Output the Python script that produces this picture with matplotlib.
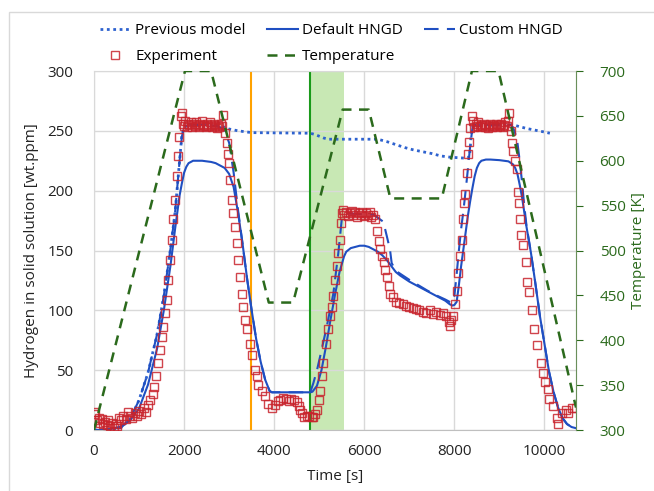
import matplotlib
matplotlib.use("Agg")
import matplotlib.pyplot as plt
from matplotlib.patches import Rectangle

plt.rcParams['font.family'] = ['Open Sans', 'DejaVu Sans']

# experiment (hydrogen in solid solution, wt.ppm)
exp_time = [0, 30, 60, 100, 130, 170, 200, 240, 280, 320, 360, 400, 440, 480, 520, 560, 600, 650, 700, 750,
            800, 850, 900, 950, 1000, 1050, 1100, 1150, 1200, 1250, 1300, 1340, 1380, 1420, 1460, 1500,
            1540, 1580, 1615, 1650, 1690, 1725, 1760, 1800, 1835, 1870, 1895, 1925, 1945,
            1970, 2000, 2030, 2060, 2090, 2120, 2150, 2180, 2210, 2240, 2270, 2300, 2330, 2360, 2390, 2420,
            2450, 2480, 2510, 2540, 2570, 2600, 2630, 2660, 2690, 2720, 2750, 2780, 2810, 2840, 2870, 2900,
            2945, 2980, 3005, 3020, 3055, 3090, 3130, 3165, 3205, 3240, 3280, 3310, 3350, 3390, 3460, 3500,
            3570, 3610, 3650, 3720, 3800, 3870, 3945,
            4020, 4090, 4130, 4200, 4260, 4330, 4380, 4440, 4500, 4540, 4580, 4620, 4660, 4720, 4780, 4840,
            4870, 4900, 4960, 5000, 5017, 5060, 5090, 5150, 5190, 5240, 5275, 5310, 5350, 5390, 5420, 5450,
            5475, 5500, 5530, 5560, 5600, 5640, 5680, 5720, 5760, 5800, 5840, 5880, 5920, 5960, 6000, 6040,
            6080, 6120, 6160, 6200, 6240, 6275, 6320, 6360, 6400, 6430, 6460, 6500, 6540, 6580, 6630, 6700,
            6780, 6850, 6920, 7000, 7080, 7150, 7220, 7300, 7380, 7450, 7520, 7600, 7680, 7750, 7820, 7870,
            7900, 7930, 7960, 8013, 8050, 8087, 8124, 8162, 8198, 8210, 8235, 8273, 8309, 8320, 8346, 8384,
            8410, 8440, 8470, 8500, 8530, 8560, 8590, 8620, 8650, 8680, 8710, 8740, 8770, 8800, 8830, 8860,
            8890, 8920, 8950, 8980, 9010, 9040, 9070, 9100, 9130, 9160, 9190, 9220, 9250,
            9272, 9300, 9340, 9383, 9410, 9430, 9455, 9478, 9530, 9589, 9620, 9665, 9716, 9775, 9840, 9915,
            9960, 10010, 10084, 10110, 10196, 10284, 10290, 10382, 10477, 10530, 10604, 10699]
exp_h = [15, 13, 8, 10, 6, 9, 5, 7, 4, 8, 3, 6, 2, 5, 3, 10, 8, 12, 9, 15,
         12, 10, 14, 12, 16, 13, 18, 15, 21, 25, 30, 36, 45, 56, 67, 78,
         86, 98, 109, 125, 142, 159, 176, 192, 212, 229, 245, 262, 265,
         256, 254, 258, 253, 256, 255, 257, 253, 256, 254, 257, 255, 253, 256, 258, 254,
         255, 253, 256, 254, 257, 255, 253, 256, 254, 252, 255, 253, 256, 254, 263, 248,
         240, 231, 223, 209, 192, 181, 170, 156, 142, 128, 114, 103, 92, 84, 72, 63,
         50, 45, 38, 33, 28, 22, 18,
         21, 24, 25, 27, 26, 24, 26, 25, 23, 20, 17, 14, 11, 12, 12, 11,
         11, 13, 17, 25, 33, 45, 56, 72, 84, 95, 103, 112, 125, 137, 148, 159,
         173, 181, 184, 180, 182, 179, 181, 183, 180, 182, 178, 181, 180, 182, 179, 181,
         180, 182, 178, 180, 176, 166, 158, 151, 145, 140, 134, 128, 120, 114, 111, 107,
         106, 105, 104, 103, 102, 101, 100, 99, 98, 100, 97, 99, 96, 98, 95, 90,
         87, 92, 95, 105, 116, 131, 145, 159, 176, 190, 197, 215, 231, 241, 252, 262,
         258, 253, 256, 254, 257, 253, 255, 254, 256, 253, 255, 252, 254, 256, 253, 255,
         254, 256, 253, 255, 254, 256, 253, 255, 257, 254, 258, 265, 250,
         240, 233, 225, 218, 199, 190, 176, 163, 155, 140, 124, 115, 100, 84, 71, 56,
         48, 40, 34, 26, 20, 10, 5, 14, 17, 14, 18, 18]

# previous model (dotted)
prev_time = [0, 200, 400, 600, 800, 1000, 1200, 1400, 1550, 1700, 1800, 1900, 1950, 2000, 2100, 2500,
             2800, 2900, 3000, 3200, 3400, 3500, 4800, 4900, 5000, 5100, 5200, 5400, 6300, 6500, 6700,
             6900, 7100, 7300, 7500, 7700, 7900, 8300, 8340, 8370, 8400, 8450, 9250, 9350, 9450, 9600,
             9800, 10000, 10120]
prev_h = [0, 0, 0.5, 2, 9, 25, 48, 80, 112, 152, 182, 225, 246, 253, 255, 255,
          254, 253, 251.5, 250, 249, 248.5, 248, 247, 245.5, 244, 243, 243, 243, 241, 238.5,
          236, 234, 232.5, 231, 229, 228, 227, 230, 245, 253, 254.5, 255, 254.5, 253.5, 252,
          250.5, 249, 248]

# default HNGD (solid)
def_time = [0, 200, 400, 600, 800, 1000, 1200, 1400, 1550, 1700, 1800, 1900, 1950, 2000, 2050, 2100,
            2200, 2400, 2600, 2700, 2800, 2900, 3000, 3100, 3200, 3300, 3400, 3500, 3600, 3700, 3800,
            3900, 3950, 4800, 4850, 4950, 5050, 5150, 5250, 5350, 5450, 5550, 5600, 5700, 5800, 5900,
            6000, 6100, 6200, 6300, 6400, 6500, 6600, 6700, 6800, 7000, 7200, 7400, 7600, 7800, 7900,
            7960, 8000, 8050, 8100, 8150, 8200, 8250, 8300, 8350, 8400, 8450, 8500, 8550, 8600, 8700,
            8800, 9000, 9200, 9300, 9350, 9400, 9450, 9500, 9600, 9700, 9800, 9900, 10000, 10100, 10200,
            10300, 10400, 10500, 10600, 10700]
def_h = [0, 0, 1, 3, 8, 18, 38, 68, 100, 138, 168, 196, 206, 215, 220, 223,
         225, 225, 224, 223, 221, 219, 214, 203, 181, 155, 126, 100, 76, 57, 42,
         32.5, 31.5, 31.5, 32, 37, 50, 70, 92, 113, 132, 145, 149, 152, 153, 154,
         154, 153, 151, 149, 146, 142, 137, 132, 129, 124, 120, 116, 112, 108, 105,
         104, 104.5, 107, 121, 137, 151, 165, 179, 191, 202, 212, 219, 223, 225, 226,
         226, 225.5, 224.5, 222, 219, 214, 205, 195, 170, 148, 122, 95, 72, 49, 32,
         19, 10, 5, 2.5, 1.5]

# custom HNGD (dashed)
cus_time = [0, 200, 400, 600, 800, 1000, 1200, 1400, 1550, 1700, 1800, 1900, 1950, 2000, 2100, 2400,
            2700, 2800, 2900, 3000, 3100, 3200, 3300, 3400, 3500, 3600, 3700, 3800, 3900, 3950, 4800,
            4868, 4950, 5017, 5100, 5165, 5250, 5313, 5424, 5500, 5600, 6200, 6280, 6350, 6423, 6500,
            6571, 6608, 6700, 6800, 7000, 7200, 7400, 7600, 7800, 7900, 7950, 8000, 8050, 8100, 8150,
            8200, 8250, 8300, 8350, 8400, 8450, 9250, 9300, 9350, 9400, 9450, 9500, 9550, 9600, 9700,
            9800, 9900, 10000, 10100, 10200, 10300, 10400, 10500, 10600, 10700]
cus_h = [0, 0, 0.5, 2, 9, 25, 48, 80, 112, 152, 182, 225, 245, 253, 255, 255,
         254, 253, 250, 240, 215, 183, 155, 126, 100, 76, 57, 42, 32.5, 31.5, 31.5,
         39, 50, 61, 75, 86, 102, 114, 148, 176, 181, 180, 178, 176, 174, 162,
         150.6, 139.5, 133, 130.5, 125.5, 121, 116.5, 112.5, 109, 107, 106.5, 112, 130, 150, 168,
         183, 200, 218, 237, 252, 255, 255, 253, 248, 240, 225, 208, 188, 171, 148,
         122, 95, 72, 49, 32, 19, 10, 5, 2.5, 1.5]

# temperature (K)
temp_time = [0, 2020, 2600, 3880, 4420, 5520, 6100, 6580, 7720, 8390, 8980, 10700]
temp_k = [300, 700, 700, 442, 442, 657, 657, 558, 558, 700, 700, 325]

blue = '#1f4fc2'
green_t = '#2b6a1c'
red = '#c8232c'

fig = plt.figure(figsize=(6.54, 4.91), dpi=100)
ax = fig.add_axes([94/654, 1-430/491, (576-94)/654, (430-71)/491])

ax.axvspan(4800, 5550, color='#c8e8b4', lw=0, zorder=0)
ax.axvline(3480, color='#ffa200', lw=1.5, zorder=1)
ax.axvline(4800, color='#1a9a1a', lw=1.5, zorder=1)

l_prev, = ax.plot(prev_time, prev_h, ls=(0, (1, 1.3)), lw=2, color='#2e62cf', zorder=3)
l_def, = ax.plot(def_time, def_h, ls='-', lw=1.5, color=blue, zorder=3)
l_cus, = ax.plot(cus_time, cus_h, ls=(0, (7, 4)), lw=1.5, color=blue, zorder=3)
l_exp, = ax.plot(exp_time, exp_h, ls='none', marker='s', ms=6.3, mfc='none', mec=red, mew=1,
                 alpha=0.85, zorder=4)

ax.set_xlim(0, 10700)
ax.set_ylim(0, 300)
ax.set_xticks([0, 2000, 4000, 6000, 8000, 10000])
ax.set_yticks(range(0, 301, 50))
ax.grid(True, color='#d9d9d9', lw=1)
ax.set_axisbelow(True)
ax.tick_params(length=0, labelsize=11, colors='#222222')
ax.tick_params(axis='y', pad=15)
ax.tick_params(axis='x', pad=10)
for s in ['left', 'top', 'right']:
    ax.spines[s].set_color('#d9d9d9')
ax.spines['bottom'].set_color('#bfbfbf')
ax.set_xlabel('Time [s]', fontsize=11, color='#222222', labelpad=7)
ax.set_ylabel('Hydrogen in solid solution [wt.ppm]', fontsize=11, color='#222222', labelpad=6)

ax2 = ax.twinx()
l_temp, = ax2.plot(temp_time, temp_k, ls=(0, (4, 3)), lw=1.8, color=green_t, zorder=2)
ax2.set_ylim(300, 700)
ax2.set_yticks(range(300, 701, 50))
ax2.tick_params(axis='y', direction='out', length=5, colors=green_t, labelsize=11, pad=12)
ax2.spines['right'].set_color('#6a8f5a')
for s in ['left', 'top', 'bottom']:
    ax2.spines[s].set_visible(False)
ax2.set_ylabel('Temperature [K]', fontsize=11, color=green_t, labelpad=4)

handles = [l_prev, l_exp, l_def, l_temp, l_cus]
labels = ['Previous model', 'Experiment', 'Default HNGD', 'Temperature', 'Custom HNGD']
fig.legend(handles, labels, loc='upper left', bbox_to_anchor=(100/654, 1-23/491), ncol=3,
           frameon=False, fontsize=11, handlelength=2.0, handletextpad=0.3, columnspacing=1.4,
           labelspacing=0.75, borderpad=0, borderaxespad=0)

fig.patches.append(Rectangle((9/654, -0.1), 1.2, 1.1 - 12/491, transform=fig.transFigure,
                             fill=False, edgecolor='#d9d9d9', lw=1))

fig.savefig('out.png', dpi=100)
